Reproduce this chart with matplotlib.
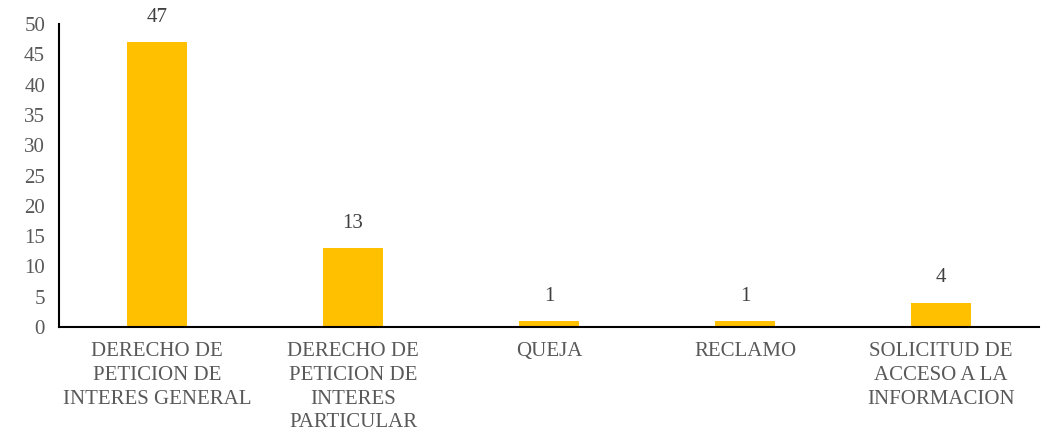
import matplotlib
matplotlib.use("Agg")
import matplotlib.pyplot as plt

categories = [
    "DERECHO DE\nPETICION DE\nINTERES GENERAL",
    "DERECHO DE\nPETICION DE\nINTERES\nPARTICULAR",
    "QUEJA",
    "RECLAMO",
    "SOLICITUD DE\nACCESO A LA\nINFORMACION",
]
counts = [47, 13, 1, 1, 4]
yticks = [0, 5, 10, 15, 20, 25, 30, 35, 40, 45, 50]

plt.rcParams["font.family"] = ["Liberation Serif", "DejaVu Serif"]

fig = plt.figure(figsize=(10.5, 4.4), dpi=100)
ax = fig.add_axes([59 / 1050, 1 - 327 / 440, 980 / 1050, 303 / 440])

x = list(range(len(categories)))
ax.bar(x, counts, width=0.31, color="#FFC000")
for xi, v in zip(x, counts):
    ax.annotate(str(v), (xi, v), xytext=(0, 11), textcoords="offset points",
                ha="center", va="bottom", fontsize=15, color="#404040")

ax.set_xlim(-0.5, len(categories) - 0.5)
ax.set_ylim(0, 50)
ax.set_yticks(yticks)
ax.set_xticks(x)
ax.set_xticklabels(categories, fontsize=15, color="#595959", linespacing=1.33)
ax.tick_params(axis="y", labelsize=15, labelcolor="#595959", length=0, pad=10)
ax.tick_params(axis="x", length=0, pad=11)
for s in ("top", "right"):
    ax.spines[s].set_visible(False)
for s in ("left", "bottom"):
    ax.spines[s].set_color("black")
    ax.spines[s].set_linewidth(1.5)

fig.savefig("out.png", dpi=100)
